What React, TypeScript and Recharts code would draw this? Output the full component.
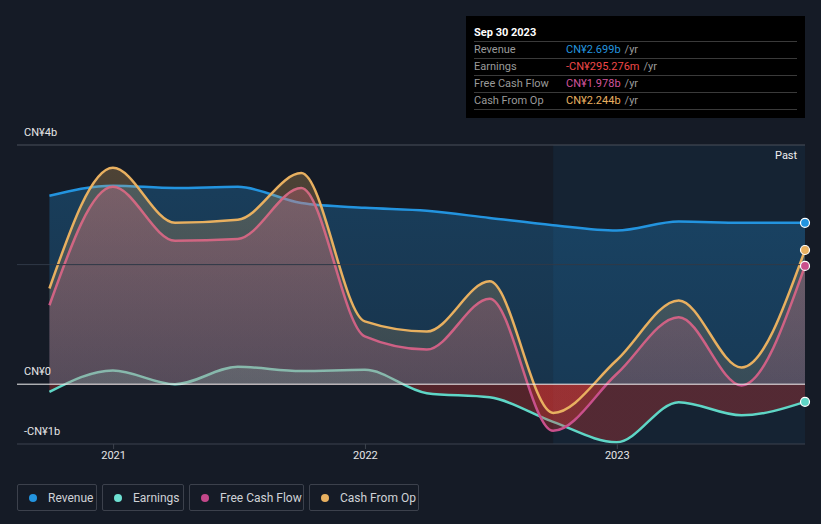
import React from "react";
import { Area, AreaChart, ReferenceArea, ReferenceLine, XAxis, YAxis } from "recharts";

const dates = [
  Date.UTC(2020, 8, 30), Date.UTC(2020, 11, 31), Date.UTC(2021, 2, 31), Date.UTC(2021, 5, 30),
  Date.UTC(2021, 8, 30), Date.UTC(2021, 11, 31), Date.UTC(2022, 2, 31), Date.UTC(2022, 5, 30),
  Date.UTC(2022, 8, 30), Date.UTC(2022, 11, 31), Date.UTC(2023, 2, 31), Date.UTC(2023, 5, 30),
  Date.UTC(2023, 8, 30),
];
// values in CN¥ billions
const revenue = [3.15, 3.32, 3.28, 3.3, 3.03, 2.95, 2.9, 2.78, 2.66, 2.57, 2.72, 2.7, 2.699];
const earnings = [-0.13, 0.23, 0.0, 0.29, 0.22, 0.24, -0.15, -0.22, -0.63, -0.97, -0.3, -0.52, -0.295];
const freeCashFlow = [1.32, 3.3, 2.4, 2.43, 3.28, 0.8, 0.58, 1.43, -0.78, 0.17, 1.12, -0.02, 1.978];
const cashFromOp = [1.6, 3.62, 2.7, 2.75, 3.53, 1.05, 0.88, 1.72, -0.48, 0.4, 1.4, 0.28, 2.244];

const yearTicks = [Date.UTC(2021, 0, 1), Date.UTC(2022, 0, 1), Date.UTC(2023, 0, 1)];
const labelledValues = [4, 0, -1];
const xStart = Date.UTC(2020, 7, 14);
const pastStart = Date.UTC(2022, 8, 30);

const data = dates.map((d, i) => ({
  date: d,
  revenue: revenue[i],
  earnings: earnings[i],
  fcf: freeCashFlow[i],
  cfo: cashFromOp[i],
}));

const C = {
  bg: "#151b26",
  revenue: "#2394df",
  earnings: "#5fd6c6",
  fcf: "#c9508c",
  cfo: "#e8b060",
  neg: "#e53935",
};

const W = 821;
const H = 524;
const TOP = 145;
const BOTTOM = 444;
const Y_MIN = -1;
const Y_MAX = 4;
const zeroOff = Y_MAX / (Y_MAX - Y_MIN);

const fmtY = (v: number) => (v === 0 ? "CN¥0" : v < 0 ? `-CN¥${Math.abs(v)}b` : `CN¥${v}b`);

const endDot = (color: string) => (props: any) => {
  if (props.index !== data.length - 1) return <g key={`d-${props.index}`} />;
  return (
    <circle key={`d-${props.index}`} cx={props.cx} cy={props.cy} r={4.5} fill={color} stroke="#ffffff" strokeWidth={1.2} />
  );
};

const yLabel = (v: number) => (props: any) => (
  <text x={24} y={props.viewBox.y - 9} fill="#e6e6e6" fontSize={11}>
    {fmtY(v)}
  </text>
);

const lineColor = (v: number) => (v === 0 ? "#f2f2f2" : v === Y_MAX ? "#4a505b" : "none");

const tooltipRows = [
  { label: "Revenue", value: "CN¥2.699b", color: C.revenue },
  { label: "Earnings", value: "-CN¥295.276m", color: "#f04848" },
  { label: "Free Cash Flow", value: "CN¥1.978b", color: "#d2559c" },
  { label: "Cash From Op", value: "CN¥2.244b", color: C.cfo },
];

const legendItems = [
  { label: "Revenue", color: C.revenue, width: 80 },
  { label: "Earnings", color: "#6ee0d2", width: 82 },
  { label: "Free Cash Flow", color: "#c3488a", width: 115 },
  { label: "Cash From Op", color: C.cfo, width: 110 },
];

function grad(id: string, top: string, topOp: number, midOp: number, negOp: number) {
  return (
    <linearGradient id={id} gradientUnits="userSpaceOnUse" x1="0" y1={TOP} x2="0" y2={BOTTOM}>
      <stop offset="0" stopColor={top} stopOpacity={topOp} />
      <stop offset={zeroOff} stopColor={top} stopOpacity={midOp} />
      <stop offset={zeroOff} stopColor={C.neg} stopOpacity={negOp} />
      <stop offset="1" stopColor={C.neg} stopOpacity={negOp} />
    </linearGradient>
  );
}

export default function App() {
  return (
    <div
      style={{
        position: "absolute",
        left: 0,
        top: 0,
        width: W,
        height: H,
        background: C.bg,
        fontFamily: "Roboto, sans-serif",
        overflow: "hidden",
      }}
    >
      <AreaChart
        width={W}
        height={H}
        data={data}
        margin={{ top: TOP, right: W - 805, bottom: H - BOTTOM - 30, left: 17 }}
        style={{ fontFamily: "Roboto, sans-serif" }}
      >
        <defs>
          <linearGradient id="revFill" gradientUnits="userSpaceOnUse" x1="0" y1={TOP} x2="0" y2={BOTTOM}>
            <stop offset="0" stopColor={C.revenue} stopOpacity={0.3} />
            <stop offset="1" stopColor={C.revenue} stopOpacity={0.18} />
          </linearGradient>
          {grad("earnFill", C.earnings, 0.25, 0.2, 0.3)}
          {grad("fcfFill", C.fcf, 0.35, 0.2, 0.3)}
          {grad("cfoFill", C.cfo, 0.28, 0.15, 0.25)}
        </defs>
        <XAxis
          dataKey="date"
          type="number"
          scale="time"
          domain={[xStart, dates[dates.length - 1]]}
          ticks={yearTicks}
          tickFormatter={(v) => String(new Date(v).getUTCFullYear())}
          height={30}
          stroke="#3d434e"
          tickSize={5}
          tick={{ fill: "#e6e6e6", fontSize: 11 }}
        />
        <YAxis type="number" domain={[Y_MIN, Y_MAX]} hide />
        <ReferenceArea x1={pastStart} x2={dates[dates.length - 1]} y1={Y_MIN} y2={Y_MAX} fill={C.revenue} fillOpacity={0.07} stroke="none" />
        <ReferenceLine y={2} stroke="#2f3947" strokeWidth={1} />
        <Area
          type="monotone"
          dataKey="revenue"
          stroke={C.revenue}
          strokeWidth={2.5}
          fill="url(#revFill)"
          fillOpacity={1}
          dot={endDot(C.revenue)}
          activeDot={false}
          isAnimationActive={false}
        />
        <Area
          type="monotone"
          dataKey="earnings"
          stroke={C.earnings}
          strokeWidth={2.5}
          fill="url(#earnFill)"
          fillOpacity={1}
          dot={endDot(C.earnings)}
          activeDot={false}
          isAnimationActive={false}
        />
        <Area
          type="monotone"
          dataKey="fcf"
          stroke={C.fcf}
          strokeWidth={2.5}
          fill="url(#fcfFill)"
          fillOpacity={1}
          dot={endDot(C.fcf)}
          activeDot={false}
          isAnimationActive={false}
        />
        <Area
          type="monotone"
          dataKey="cfo"
          stroke={C.cfo}
          strokeWidth={2.5}
          fill="url(#cfoFill)"
          fillOpacity={1}
          dot={endDot(C.cfo)}
          activeDot={false}
          isAnimationActive={false}
        />
        {labelledValues.map((v) => (
          <ReferenceLine key={v} y={v} stroke={lineColor(v)} strokeWidth={1} label={yLabel(v)} />
        ))}
      </AreaChart>

      <div style={{ position: "absolute", left: 775, top: 149, color: "#f0f0f0", fontSize: 11 }}>Past</div>

      <div
        style={{
          position: "absolute",
          left: 466,
          top: 16,
          width: 339,
          height: 102,
          background: "#000",
          boxSizing: "border-box",
          padding: "9px 8px 0 8px",
          fontSize: 11,
        }}
      >
        <div style={{ color: "#fff", fontWeight: 700, height: 16, lineHeight: "16px", borderBottom: "1px solid #3a3a3a" }}>
          Sep 30 2023
        </div>
        {tooltipRows.map((r) => (
          <div
            key={r.label}
            style={{ display: "flex", height: 16, lineHeight: "16px", borderBottom: "1px solid #3a3a3a" }}
          >
            <span style={{ width: 92, color: "#9a9a9a" }}>{r.label}</span>
            <span style={{ color: r.color }}>{r.value}</span>
            <span style={{ color: "#9a9a9a", marginLeft: 4 }}>/yr</span>
          </div>
        ))}
      </div>

      <div style={{ position: "absolute", left: 17, top: 484, display: "flex", gap: 5 }}>
        {legendItems.map((l) => (
          <div
            key={l.label}
            style={{
              width: l.width,
              height: 27,
              boxSizing: "border-box",
              border: "1px solid #3c414c",
              borderRadius: 2,
              display: "flex",
              alignItems: "center",
              paddingLeft: 11,
              color: "#cfd2d6",
              fontSize: 12,
            }}
          >
            <span
              style={{ width: 8, height: 8, borderRadius: 4, background: l.color, display: "inline-block", marginRight: 11 }}
            />
            {l.label}
          </div>
        ))}
      </div>
    </div>
  );
}
